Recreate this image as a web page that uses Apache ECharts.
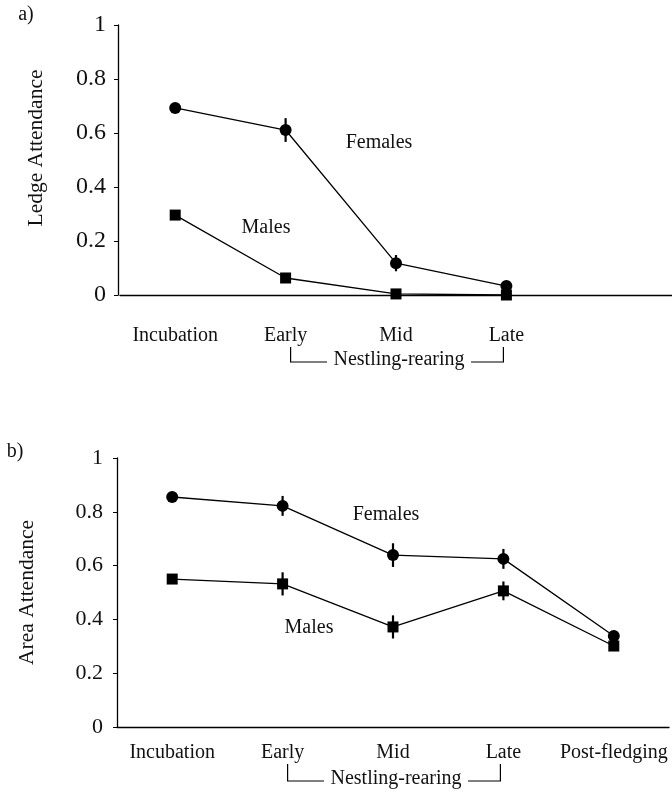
<!DOCTYPE html>
<html>
<head>
<meta charset="utf-8">
<script src="https://cdn.jsdelivr.net/npm/echarts@6/dist/echarts.min.js"></script>
<style>html,body{margin:0;padding:0;background:#fff;}#c{width:672px;height:793px;}</style>
</head>
<body>
<div id="c"></div>
<script>
const categories = ['Incubation', 'Early', 'Mid', 'Late', 'Post-fledging'];
const ledgeFemales = [0.693, 0.611, 0.118, 0.033];
const ledgeFemalesErr = [0.015, 0.044, 0.03, 0.01];
const ledgeMales = [0.296, 0.063, 0.004, 0.0];
const ledgeMalesErr = [0.01, 0.01, 0.005, 0.005];
const areaFemales = [0.855, 0.822, 0.639, 0.625, 0.338];
const areaFemalesErr = [0.01, 0.037, 0.044, 0.037, 0.02];
const areaMales = [0.550, 0.532, 0.372, 0.506, 0.301];
const areaMalesErr = [0.015, 0.043, 0.043, 0.035, 0.015];
const yMin = 0, yMax = 1, yStep = 0.2;

const FONT = "'Liberation Serif', 'DejaVu Serif', serif";
const INK = '#111';
const chart = echarts.init(document.getElementById('c'), null, {renderer: 'canvas'});

function errData(vals, errs) {
  return vals.map((v, i) => [i, v - errs[i], v + errs[i]]);
}
function errSeries(idx, vals, errs) {
  return {
    type: 'custom', xAxisIndex: idx, yAxisIndex: idx, z: 2, silent: true,
    data: errData(vals, errs),
    renderItem: (params, api) => {
      const a = api.coord([api.value(0), api.value(1)]);
      const b = api.coord([api.value(0), api.value(2)]);
      return {type: 'line', shape: {x1: a[0], y1: a[1], x2: b[0], y2: b[1]},
              style: {stroke: '#000', lineWidth: 2.2}};
    }
  };
}
function lineSeries(idx, name, vals, symbol, size) {
  return {
    type: 'line', name: name, xAxisIndex: idx, yAxisIndex: idx, z: 3,
    data: vals, symbol: symbol, symbolSize: size, showSymbol: true,
    lineStyle: {color: '#000', width: 1.3},
    itemStyle: {color: '#000', borderWidth: 0},
    animation: false
  };
}
function xAxisDef(idx, nLabels, margin) {
  return {
    type: 'category', gridIndex: idx, data: categories, boundaryGap: true,
    axisLine: {lineStyle: {color: '#000', width: 1.3}},
    axisTick: {show: false},
    axisLabel: {interval: 0, margin: margin, fontFamily: FONT, fontSize: 20, color: INK,
                formatter: (v, i) => (i < nLabels ? v : '')},
    splitLine: {show: false}
  };
}
function yAxisDef(idx, name, nameGap, labelSize, labelMargin, offset, namePad) {
  return {
    type: 'value', gridIndex: idx, min: yMin, max: yMax, interval: yStep, offset: offset,
    name: name, nameLocation: 'middle', nameGap: nameGap,
    nameTextStyle: {fontFamily: FONT, fontSize: 21.5, color: INK, padding: namePad},
    axisLine: {show: true, lineStyle: {color: '#000', width: 1.3}},
    axisTick: {show: true, length: 4, inside: false, lineStyle: {color: '#000', width: 1}},
    axisLabel: {margin: labelMargin, fontFamily: FONT, fontSize: labelSize, color: INK},
    splitLine: {show: false}
  };
}

chart.setOption({
  animation: false,
  backgroundColor: '#fff',
  grid: [
    {left: 120, right: 0, top: 25, height: 270},
    {left: 117, right: 3, top: 458, height: 269}
  ],
  xAxis: [xAxisDef(0, ledgeFemales.length, 31), xAxisDef(1, areaFemales.length, 16)],
  yAxis: [
    yAxisDef(0, 'Ledge Attendance', 71, 24, 12, 2, [0, 0, 0, 24]),
    yAxisDef(1, 'Area Attendance', 79, 22, 14, 0, [0, 0, 0, 0])
  ],
  series: [
    errSeries(0, ledgeFemales, ledgeFemalesErr),
    errSeries(0, ledgeMales, ledgeMalesErr),
    lineSeries(0, 'Females', ledgeFemales, 'circle', 12),
    lineSeries(0, 'Males', ledgeMales, 'rect', 11),
    errSeries(1, areaFemales, areaFemalesErr),
    errSeries(1, areaMales, areaMalesErr),
    lineSeries(1, 'Females', areaFemales, 'circle', 12),
    lineSeries(1, 'Males', areaMales, 'rect', 11)
  ]
});

// annotations and bracket, placed from the axes
function txt(x, y, s, align) {
  return {type: 'text', x: x, y: y, style: {text: s, fontFamily: FONT, fontSize: 20, fill: INK,
          align: align || 'center', verticalAlign: 'middle'}};
}
function bracket(gi, yTop, yBot) {
  const xl = chart.convertToPixel({xAxisIndex: gi}, 'Early') + 5;
  const xr = chart.convertToPixel({xAxisIndex: gi}, 'Late') - 3;
  const mid = (xl + xr) / 2;
  const half = 72;
  const ls = {stroke: '#000', lineWidth: 1.2, fill: null};
  return [
    {type: 'polyline', shape: {points: [[xl, yTop], [xl, yBot], [mid - half + 2, yBot]]}, style: ls},
    {type: 'polyline', shape: {points: [[mid + half + 2, yBot], [xr, yBot], [xr, yTop]]}, style: ls},
    txt(mid + 2, yBot - 2, 'Nestling-rearing')
  ];
}
chart.setOption({
  graphic: [
    txt(26, 15, 'a)'),
    txt(15, 452, 'b)'),
    txt(379, 143, 'Females'),
    txt(266, 228, 'Males'),
    txt(386, 515, 'Females'),
    txt(309, 628, 'Males')
  ].concat(bracket(0, 347, 362)).concat(bracket(1, 764, 781))
});
</script>
</body>
</html>
